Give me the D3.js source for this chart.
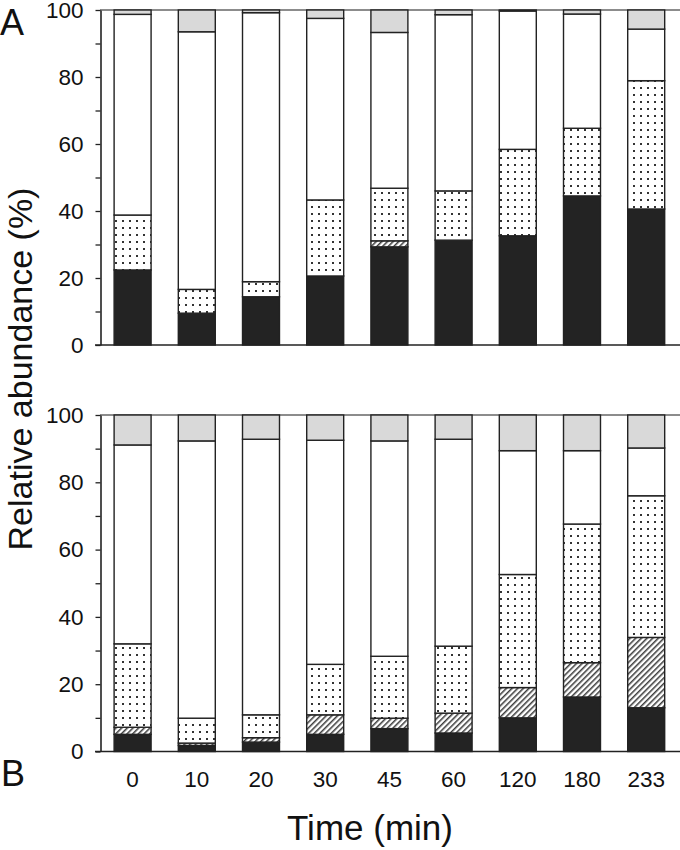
<!DOCTYPE html>
<html>
<head>
<meta charset="utf-8">
<script src="https://cdn.jsdelivr.net/npm/d3@7"></script>
<style>
  html, body { margin: 0; padding: 0; background: #fff; }
  svg { display: block; font-family: "Liberation Sans", Arial, Helvetica, sans-serif; }
</style>
</head>
<body>
<svg id="chart" width="680" height="850"></svg>
<script>
// ---- data ----
const categories = ["0", "10", "20", "30", "45", "60", "120", "180", "233"];
const seriesKeys = ["black", "hatched", "dotted", "white", "gray"];
const yTicks = [0, 20, 40, 60, 80, 100];
const yMinorTicks = [10, 30, 50, 70, 90];

// Panel A segment sizes (%), bottom to top
const aBlack   = [22.4, 9.5, 14.4, 20.6, 29.3, 31.3, 32.6, 44.5, 40.6];
const aHatched = [0, 0, 0, 0, 1.8, 0, 0, 0, 0];
const aDotted  = [16.4, 7.1, 4.5, 22.7, 15.7, 14.7, 25.8, 20.2, 38.3];
const aWhite   = [59.9, 76.9, 80.3, 54.2, 46.5, 52.6, 41.3, 34.1, 15.4];
const aGray    = [1.3, 6.5, 0.8, 2.5, 6.7, 1.4, 0.3, 1.2, 5.7];

// Panel B segment sizes (%), bottom to top
const bBlack   = [5.1, 1.8, 2.8, 5.1, 6.8, 5.5, 10.0, 16.2, 13.0];
const bHatched = [2.1, 0.7, 1.3, 5.8, 3.1, 5.9, 9.0, 10.2, 20.9];
const bDotted  = [24.8, 7.4, 6.8, 15.0, 18.4, 19.9, 33.6, 41.2, 42.1];
const bWhite   = [59.1, 82.4, 81.9, 66.6, 64.0, 61.5, 36.8, 21.8, 14.2];
const bGray    = [8.9, 7.7, 7.2, 7.5, 7.7, 7.2, 10.6, 10.6, 9.8];

function buildRows(black, hatched, dotted, white, gray) {
  return categories.map((c, i) => ({
    cat: c, black: black[i], hatched: hatched[i], dotted: dotted[i], white: white[i], gray: gray[i]
  }));
}
const panelA = buildRows(aBlack, aHatched, aDotted, aWhite, aGray);
const panelB = buildRows(bBlack, bHatched, bDotted, bWhite, bGray);

// ---- drawing ----
const svg = d3.select("#chart");
const defs = svg.append("defs");

const dots = defs.append("pattern").attr("id", "dots")
  .attr("patternUnits", "userSpaceOnUse").attr("width", 7).attr("height", 7);
dots.append("rect").attr("width", 7).attr("height", 7).attr("fill", "#fff");
dots.append("rect").attr("x", 3).attr("y", 3).attr("width", 2).attr("height", 2).attr("fill", "#333");

const hatch = defs.append("pattern").attr("id", "hatch")
  .attr("patternUnits", "userSpaceOnUse").attr("width", 4).attr("height", 4)
  .attr("patternTransform", "rotate(45)");
hatch.append("rect").attr("width", 4).attr("height", 4).attr("fill", "#fff");
hatch.append("line").attr("x1", 0.8).attr("y1", 0).attr("x2", 0.8).attr("y2", 4)
  .attr("stroke", "#1a1a1a").attr("stroke-width", 1.3);

const fills = { black: "#232323", hatched: "url(#hatch)", dotted: "url(#dots)", white: "#ffffff", gray: "#d9d9d9" };

const x = d3.scaleBand().domain(categories).range([100.5, 678.3])
  .paddingInner(0.424).paddingOuter(0.212);

const stack = d3.stack().keys(seriesKeys);

function drawPanel(rows, yTop, yBottom, showX) {
  const y = d3.scaleLinear().domain([0, 100]).range([yBottom, yTop]);
  const g = svg.append("g");

  // top frame line
  g.append("line").attr("x1", 100).attr("x2", 680).attr("y1", y(100)).attr("y2", y(100))
    .attr("stroke", "#666").attr("stroke-width", 1.6);

  const layers = stack(rows);
  layers.forEach(layer => {
    g.append("g").selectAll("rect").data(layer).join("rect")
      .attr("x", d => x(d.data.cat))
      .attr("width", x.bandwidth())
      .attr("y", d => y(d[1]))
      .attr("height", d => Math.max(0, y(d[0]) - y(d[1])))
      .attr("fill", fills[layer.key])
      .attr("stroke", "#222")
      .attr("stroke-width", 1.4);
  });

  // minor ticks
  const yMinor = d3.axisLeft(y).tickValues(yMinorTicks).tickSize(5).tickFormat("");
  g.append("g").attr("transform", "translate(100.5,0)").call(yMinor)
    .call(s => s.select(".domain").remove())
    .call(s => s.selectAll("line").attr("stroke", "#222").attr("stroke-width", 1.3));

  const yAxis = d3.axisLeft(y).tickValues(yTicks).tickSize(5).tickPadding(12).tickSizeOuter(0);
  g.append("g").attr("transform", "translate(100.5,0)").call(yAxis)
    .call(s => s.select(".domain").attr("stroke", "#222").attr("stroke-width", 1.6))
    .call(s => s.selectAll("line").attr("stroke", "#222").attr("stroke-width", 1.3))
    .call(s => s.selectAll("text").attr("font-size", 22.5).attr("fill", "#111")
      .attr("font-family", "'Liberation Sans', Arial, sans-serif"));

  // bottom axis
  const xAxis = d3.axisBottom(x).tickSize(0).tickPadding(20).tickSizeOuter(0);
  const xg = g.append("g").attr("transform", `translate(0,${y(0)})`).call(xAxis);
  xg.select(".domain").attr("d", `M95,0H680`).attr("stroke", "#222").attr("stroke-width", 1.6);
  xg.selectAll("text").attr("font-size", 22.5).attr("fill", "#111")
    .attr("font-family", "'Liberation Sans', Arial, sans-serif")
    .style("display", showX ? null : "none");
}

drawPanel(panelA, 10, 345, false);
drawPanel(panelB, 415, 751.5, true);

// panel letters
svg.append("text").attr("x", 0).attr("y", 35).attr("font-size", 36).attr("fill", "#111").text("A");
svg.append("text").attr("x", 1).attr("y", 786).attr("font-size", 36).attr("fill", "#111").text("B");

// axis titles
svg.append("text").attr("transform", "translate(32,369) rotate(-90)")
  .attr("text-anchor", "middle").attr("font-size", 34).attr("fill", "#111")
  .text("Relative abundance (%)");
svg.append("text").attr("x", 370).attr("y", 840)
  .attr("text-anchor", "middle").attr("font-size", 35).attr("fill", "#111")
  .text("Time (min)");
</script>
</body>
</html>
